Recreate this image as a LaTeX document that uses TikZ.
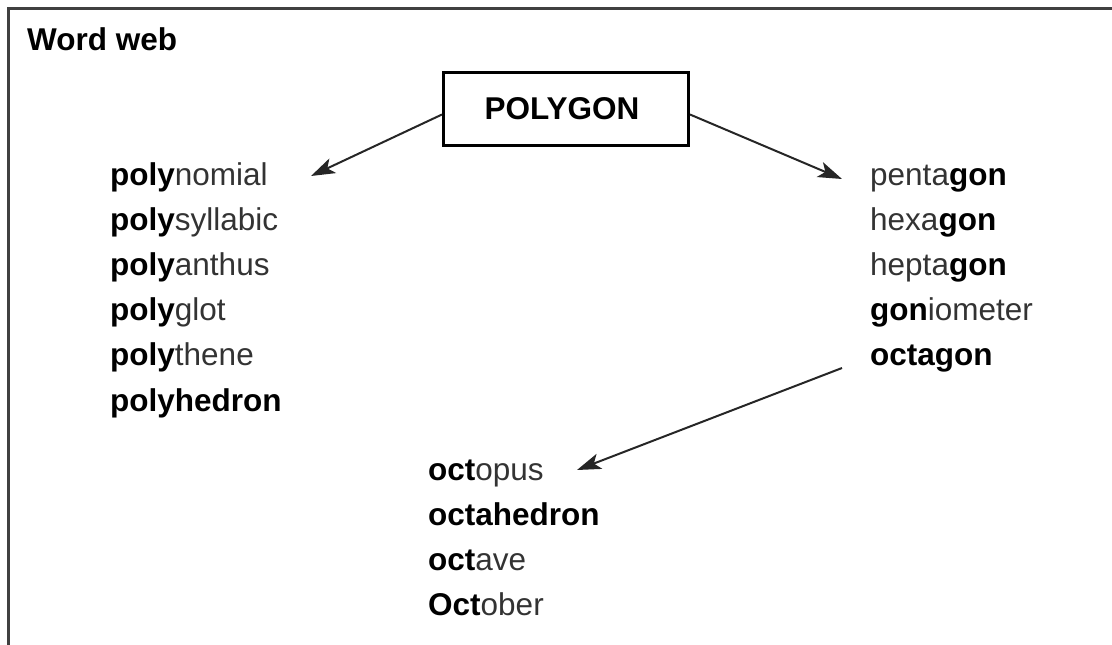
\documentclass[tikz,border=0pt]{standalone}
\usepackage{fontspec}
\setmainfont{Liberation Sans}
\usetikzlibrary{arrows.meta}
\tikzset {>={Stealth[length=24pt,width=16pt,inset=6pt]}}
\tikzset{
  word/.style={anchor=base west,inner sep=0pt,text=black!80},
  link/.style={->,line width=2pt,draw=black!85}
}

\begin{document}
\begin{tikzpicture}[x=1pt,y=-1pt,font=\fontsize{31.5}{38}\selectfont]
\useasboundingbox (0,0) rectangle (1112,645);
% frame, open at right and bottom
\draw[line width=3pt,black!75] (8,650) -- (8,8) -- (1120,8);
\node[word,text=black] (title) at (27,50) {\textbf{Word web}};
\node[draw,line width=3pt,minimum width=245pt,minimum height=73pt,
  inner sep=0pt] (poly) at (566,108.5) {\textbf{POLYGON}\hspace*{8pt}};
% left column
\foreach \w [count=\i] in {{\textbf{\color{black}poly}nomial},
  {\textbf{\color{black}poly}syllabic},{\textbf{\color{black}poly}anthus},
  {\textbf{\color{black}poly}glot},{\textbf{\color{black}poly}thene},
  {\textbf{\color{black}polyhedron}}}
  \node[word] (l\i) at (110,{185+45.2*(\i-1)}) {\w};
% right column
\foreach \w [count=\i] in {{penta\textbf{\color{black}gon}},
  {hexa\textbf{\color{black}gon}},{hepta\textbf{\color{black}gon}},
  {\textbf{\color{black}gon}iometer},{\textbf{\color{black}octagon}}}
  \node[word] (r\i) at (870,{185+45.2*(\i-1)}) {\w};
% bottom column
\foreach \w [count=\i] in {{\textbf{\color{black}oct}opus},
  {\textbf{\color{black}octahedron}},{\textbf{\color{black}oct}ave},
  {\textbf{\color{black}Oct}ober}}
  \node[word] (b\i) at (428,{480+45.3*(\i-1)}) {\w};
\coordinate (ltip) at (311,176);
\coordinate (rtip) at (842,179);
\coordinate (otail) at (842,368);
\coordinate (otip) at (577,470);
\draw[link] ([yshift=-6pt]poly.west) -- (ltip);
\draw[link] ([yshift=-6pt]poly.east) -- (rtip);
\draw[link] (otail) -- (otip);
\end{tikzpicture}
\end{document}
